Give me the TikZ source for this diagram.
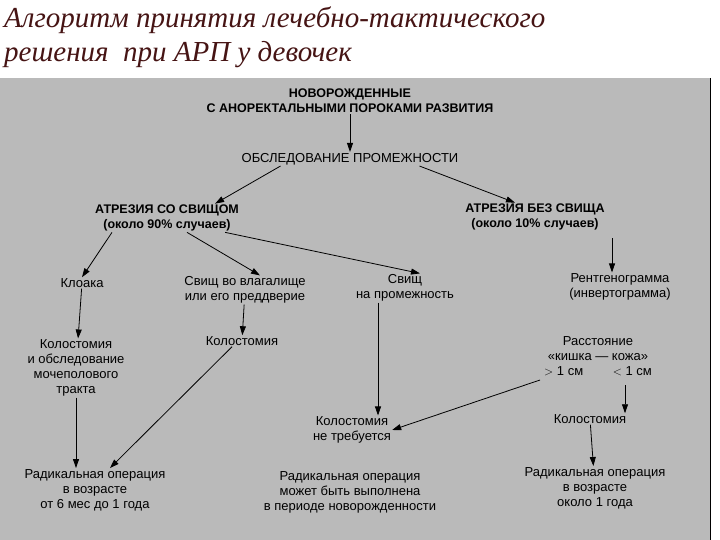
\documentclass[tikz,border=0pt]{standalone}
\usepackage{fontspec}
\setmainfont{Liberation Sans}
\newfontfamily\titlefont{Liberation Serif}
\usetikzlibrary{arrows.meta}
\definecolor{bg}{RGB}{186,186,186}
\definecolor{ttl}{RGB}{70,20,20}
\begin{document}
\begin{tikzpicture}[x=1pt,y=-1pt,
  t/.style={align=center,font=\fontsize{13}{15}\selectfont,inner sep=1pt},
  hb/.style={align=center,font=\bfseries\fontsize{12.5}{15}\selectfont,inner sep=1pt},
  ar/.style={-{Triangle[length=9pt,width=6pt]},line width=0.8pt},
  ln/.style={line width=0.8pt}]
\useasboundingbox (0,0) rectangle (720,540);
\fill[white] (0,0) rectangle (720,540);
\fill[bg] (0,78) rectangle (710,540);
\draw[line width=1pt] (710,78) -- (710,540);
\node[anchor=west,font=\titlefont\itshape\fontsize{29}{34}\selectfont,text=ttl,align=left,inner sep=0] (title) at (4,37) {Алгоритм принятия лечебно-тактического\\решения~ при АРП у девочек};
\node[hb] (n1) at (350,101) {НОВОРОЖДЕННЫЕ\\С АНОРЕКТАЛЬНЫМИ ПОРОКАМИ РАЗВИТИЯ};
\node[hb,font=\fontsize{13}{15}\selectfont] (n2) at (350,159) {ОБСЛЕДОВАНИЕ ПРОМЕЖНОСТИ};
\node[hb] (n3) at (167,218) {АТРЕЗИЯ СО СВИЩОМ\\(около 90\% случаев)};
\node[hb] (n4) at (535,217) {АТРЕЗИЯ БЕЗ СВИЩА\\(около 10\% случаев)};
\node[t] (kl) at (82,283) {Клоака};
\node[t] (vl) at (245,290) {Свищ во влагалище\\или его преддверие};
\node[t] (sv) at (405,288) {Свищ\\на промежность};
\node[t] (rg) at (620,287) {Рентгенограмма\\(инвертограмма)};
\node[t] (k1) at (76,368) {Колостомия\\и обследование\\мочеполового\\тракта};
\node[t] (k2) at (242,341) {Колостомия};
\node[t] (rs) at (598,356) {Расстояние\\«кишка — кожа»\\$>$ 1 см \qquad $<$ 1 см};
\node[t] (kn) at (352,430) {Колостомия\\не требуется};
\node[t] (k3) at (590,419) {Колостомия};
\node[t] (r1) at (95,490) {Радикальная операция\\в возрасте\\от 6 мес до 1 года};
\node[t] (r2) at (350,492) {Радикальная операция\\может быть выполнена\\в периоде новорожденности};
\node[t] (r3) at (595,488) {Радикальная операция\\в возрасте\\около 1 года};
\coordinate (gt) at (540,380);
\coordinate (lt) at (625,385);
\draw[ar] (n1) -- (n2);
\draw[ar] ([xshift=40pt]n2.south west) -- ([xshift=-25pt]n3.north east);
\draw[ar] ([xshift=-40pt]n2.south east) -- ([xshift=-20pt]n4.north);
\draw[ar] ([xshift=-55pt]n3.south) -- (kl.north);
\draw[ar] ([xshift=20pt]n3.south) -- ([xshift=15pt]vl.north);
\draw[ar] ([xshift=-15pt]n3.south east) -- ([xshift=15pt]sv.north);
\draw[ar] (rg.north) ++(-8,-34) -- ([xshift=-8pt]rg.north);
\draw[ar] (kl) -- (k1);
\draw[ar] (vl) -- (k2);
\draw[ar] ([xshift=-27pt]sv.south) -- ([xshift=26pt]kn.north);
\draw[ar] (k1) -- (k1 |- r1.north);
\draw[ar] ([xshift=-10pt]k2.south) -- ([xshift=15pt]r1.north);
\draw[ar] (gt) -- (kn.east);
\draw[ar] (lt) -- (lt |- k3.north);
\draw[ar] (k3) -- (r3);
\end{tikzpicture}
\end{document}
